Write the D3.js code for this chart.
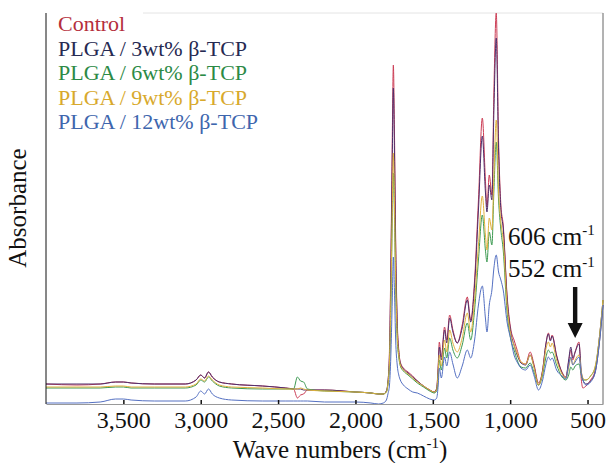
<!DOCTYPE html>
<html>
<head>
<meta charset="utf-8">
<script src="https://cdn.jsdelivr.net/npm/d3@7"></script>
<style>
  body { margin: 0; background: #fff; }
  svg { display: block; font-family: "Liberation Serif", "Times New Roman", serif; }
</style>
</head>
<body>
<svg id="chart" width="608" height="463"></svg>
<script>
// Wave numbers (cm-1)
var wavenumbers = [4000, 3800, 3650, 3550, 3500, 3450, 3300, 3100, 3030, 3000,
    2975, 2950, 2925, 2880, 2800, 2600, 2450, 2400, 2375, 2355,
    2335, 2310, 2200, 2000, 1900, 1850, 1820, 1800, 1790, 1780,
    1770, 1762, 1755, 1748, 1740, 1730, 1720, 1710, 1690, 1660,
    1630, 1600, 1560, 1520, 1490, 1475, 1465, 1458, 1445, 1424,
    1410, 1391, 1370, 1342, 1310, 1277, 1255, 1230, 1205, 1180,
    1160, 1150, 1135, 1118, 1105, 1090, 1075, 1060, 1045, 1020,
    995, 975, 955, 930, 900, 871, 845, 817, 790, 770,
    753, 740, 729, 700, 665, 640, 622, 608, 595, 580,
    555, 540, 530, 510, 480, 450, 425, 400];

// Absorbance (mAU, arbitrary baseline) for each sample
var control = [20, 19, 20, 22, 22, 21, 20, 20, 24, 29,
    26, 32, 27, 22, 20, 18, 16, 15, 6, 9,
    10, 14, 14, 12, 11, 10, 10, 13, 22, 54,
    154, 264, 339, 274, 164, 84, 54, 42, 36, 32,
    28, 23, 18, 14, 12, 16, 39, 62, 47, 77,
    64, 89, 74, 61, 79, 107, 84, 124, 204, 286,
    224, 197, 229, 209, 314, 391, 264, 199, 179, 109,
    74, 64, 54, 42, 40, 52, 39, 21, 34, 59,
    71, 64, 69, 49, 32, 27, 42, 54, 44, 52,
    62, 24, 16, 18, 24, 34, 64, 104];

var tcp3 = [20, 20, 20, 22, 22, 21, 20, 20, 24, 29,
    26, 32, 27, 22, 20, 18, 16, 15, 15, 15,
    14, 14, 14, 12, 11, 10, 10, 13, 22, 49,
    144, 244, 316, 254, 154, 79, 52, 41, 35, 31,
    27, 23, 18, 14, 12, 15, 36, 57, 44, 74,
    61, 86, 72, 61, 76, 104, 82, 119, 194, 268,
    212, 192, 219, 204, 294, 366, 254, 194, 176, 106,
    71, 59, 49, 41, 39, 49, 37, 19, 34, 59,
    70, 63, 68, 48, 31, 26, 44, 57, 46, 52,
    60, 32, 24, 20, 23, 32, 59, 99];

var tcp6 = [16, 16, 16, 17, 17, 16, 16, 16, 19, 24,
    22, 27, 23, 18, 16, 15, 15, 15, 27, 23,
    22, 15, 13, 12, 11, 10, 10, 12, 20, 39,
    104, 184, 231, 189, 114, 64, 47, 38, 33, 29,
    25, 21, 17, 13, 11, 13, 29, 44, 34, 56,
    46, 66, 54, 46, 59, 81, 64, 94, 144, 189,
    154, 142, 172, 159, 214, 262, 204, 174, 154, 92,
    64, 54, 44, 37, 36, 41, 31, 19, 29, 46,
    54, 51, 52, 39, 27, 24, 29, 37, 34, 38,
    40, 29, 24, 24, 28, 37, 64, 104];

var tcp9 = [17, 17, 17, 18, 18, 17, 17, 17, 20, 25,
    23, 28, 24, 19, 17, 16, 15, 15, 15, 16,
    15, 14, 13, 12, 11, 10, 10, 12, 20, 42,
    114, 194, 251, 204, 124, 69, 49, 39, 34, 30,
    26, 22, 18, 14, 12, 14, 32, 49, 38, 64,
    52, 74, 61, 52, 66, 91, 72, 104, 159, 208,
    169, 154, 186, 174, 229, 284, 214, 182, 164, 99,
    68, 59, 51, 42, 40, 49, 36, 19, 32, 54,
    62, 57, 61, 44, 30, 26, 36, 46, 39, 44,
    49, 32, 26, 24, 28, 38, 64, 104];

var tcp12 = [1, 1, 2, 5, 5, 4, 3, 3, 7, 13,
    10, 15, 10, 6, 4, 3, 3, 3, 3, 3,
    3, 3, 2, 2, 1, 0, 1, 4, 10, 19,
    54, 104, 147, 114, 64, 39, 29, 24, 19, 15,
    12, 11, 8, 5, 4, 6, 19, 36, 26, 47,
    38, 52, 40, 26, 38, 54, 46, 64, 99, 118,
    86, 72, 99, 114, 136, 149, 132, 124, 114, 82,
    64, 49, 42, 36, 34, 39, 28, 14, 24, 39,
    47, 44, 46, 34, 28, 25, 39, 47, 39, 42,
    47, 30, 24, 19, 22, 32, 59, 99];

var seriesNames = ['Control', 'PLGA / 3wt% \u03b2-TCP', 'PLGA / 6wt% \u03b2-TCP',
    'PLGA / 9wt% \u03b2-TCP', 'PLGA / 12wt% \u03b2-TCP'];
var xTicks = [3500, 3000, 2500, 2000, 1500, 1000, 500];

var lineColors = ['#cc3d55', '#4e2f6c', '#3d9a52', '#e0b13e', '#5470c2'];
var textColors = ['#b52e3c', '#262a52', '#2c8a46', '#d8a92c', '#3e66ad'];

var svg = d3.select('#chart');
var svgWidth = +svg.attr('width');
var svgHeight = +svg.attr('height');
var padding = { t: 13, r: 5, b: 59, l: 46 };
var chartWidth = svgWidth - padding.l - padding.r;
var chartHeight = svgHeight - padding.t - padding.b;

var chartG = svg.append('g')
    .attr('transform', 'translate(' + [padding.l, padding.t] + ')');

var xScale = d3.scaleLinear().domain([4000, 400]).range([0, chartWidth]);
var yScale = d3.scaleLinear().domain([0, 391]).range([chartHeight, 0]);

// frame: faint top, grey right
chartG.append('line')
    .attr('x1', 97).attr('x2', chartWidth).attr('y1', 0).attr('y2', 0)
    .attr('stroke', '#e4e4e4');
chartG.append('line')
    .attr('x1', chartWidth).attr('x2', chartWidth).attr('y1', 0).attr('y2', chartHeight)
    .attr('stroke', '#666');

var allSeries = [control, tcp3, tcp6, tcp9, tcp12];
var line = d3.line()
    .x(function (d, i) { return xScale(wavenumbers[i]); })
    .y(function (d) { return yScale(d); })
    .curve(d3.curveMonotoneX);

chartG.selectAll('.spectrum')
    .data(allSeries)
    .enter()
    .append('path')
    .attr('class', 'spectrum')
    .attr('d', line)
    .attr('fill', 'none')
    .attr('stroke', function (d, i) { return lineColors[i]; })
    .attr('stroke-width', 1);

// bottom axis, ticks point inward
var xAxis = d3.axisBottom(xScale)
    .tickValues(xTicks)
    .tickSizeInner(-4)
    .tickSizeOuter(0)
    .tickFormat(d3.format(','));

var xAxisG = chartG.append('g')
    .attr('transform', 'translate(0,' + chartHeight + ')')
    .call(xAxis);
xAxisG.select('.domain').attr('stroke', '#999');
xAxisG.selectAll('.tick line').attr('stroke', '#111').attr('stroke-width', 1.5);
xAxisG.selectAll('.tick text')
    .attr('y', 24).attr('dy', 0)
    .attr('font-family', '"Liberation Serif", serif')
    .attr('font-size', 24)
    .attr('fill', '#111');

// left axis line only
chartG.append('line')
    .attr('x1', 0).attr('x2', 0).attr('y1', 0).attr('y2', chartHeight)
    .attr('stroke', '#111');

// axis titles
var xTitle = svg.append('text')
    .attr('x', 340).attr('y', 458)
    .attr('text-anchor', 'middle')
    .attr('font-size', 25)
    .attr('fill', '#111');
xTitle.append('tspan').text('Wave numbers (cm');
xTitle.append('tspan').attr('font-size', 15).attr('dy', -10).text('-1');
xTitle.append('tspan').attr('dy', 10).text(')');

svg.append('text')
    .attr('transform', 'translate(26,208) rotate(-90)')
    .attr('text-anchor', 'middle')
    .attr('font-size', 25)
    .attr('fill', '#111')
    .text('Absorbance');

// legend
svg.selectAll('.legend-label')
    .data(seriesNames)
    .enter()
    .append('text')
    .attr('class', 'legend-label')
    .attr('x', 58)
    .attr('y', function (d, i) { return 31 + i * 24.5; })
    .attr('font-size', 22)
    .attr('fill', function (d, i) { return textColors[i]; })
    .text(function (d) { return d; });

// peak annotation
var notes = ['606', '552'];
notes.forEach(function (n, i) {
    var t = svg.append('text')
        .attr('x', 508).attr('y', 245 + i * 32)
        .attr('font-size', 25)
        .attr('fill', '#111');
    t.append('tspan').text(n + ' cm');
    t.append('tspan').attr('font-size', 15).attr('dy', -10).text('-1');
});

var ax = xScale(580) + padding.l;
var arrow = d3.path();
arrow.moveTo(ax - 2.2, 287);
arrow.lineTo(ax + 2.2, 287);
arrow.lineTo(ax + 2.2, 323);
arrow.lineTo(ax + 7.5, 323);
arrow.lineTo(ax, 338);
arrow.lineTo(ax - 7.5, 323);
arrow.lineTo(ax - 2.2, 323);
arrow.closePath();
svg.append('path').attr('d', arrow.toString()).attr('fill', '#111');
</script>
</body>
</html>
